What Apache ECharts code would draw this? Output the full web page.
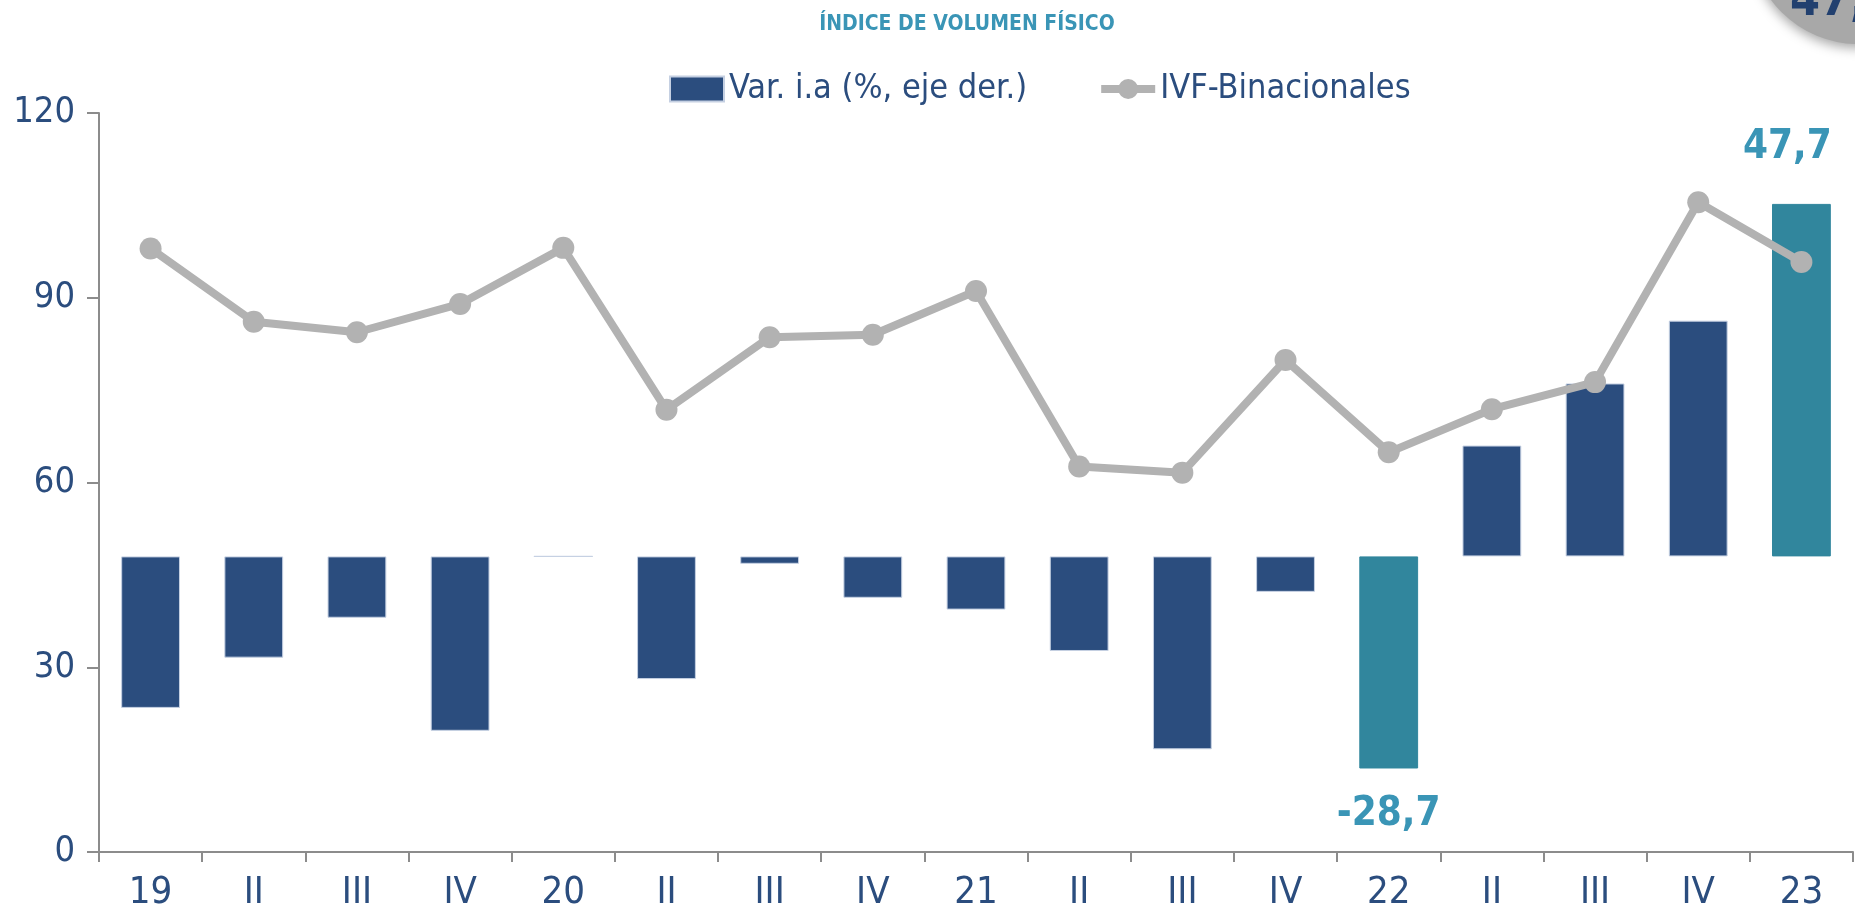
<!DOCTYPE html>
<html>
<head>
<meta charset="utf-8">
<title>Índice de volumen físico</title>
<script src="https://cdn.jsdelivr.net/npm/echarts@6/dist/echarts.min.js"></script>
<style>
  html, body { margin: 0; padding: 0; background: #fff; }
  #chart { width: 1855px; height: 914px; }
</style>
</head>
<body>
<div id="chart"></div>
<script>
// categorías trimestrales (año en el primer trimestre)
const categories = ['19', 'II', 'III', 'IV', '20', 'II', 'III', 'IV', '21', 'II', 'III', 'IV', '22', 'II', 'III', 'IV', '23'];

// IVF-Binacionales (eje izquierdo)
const ivfValues = [98.0, 86.1, 84.4, 89.0, 98.1, 71.8, 83.6, 84.0, 91.1, 62.6, 61.6, 79.9, 64.9, 71.9, 76.3, 105.5, 95.8];

// Var. i.a % (eje derecho, oculto)
const varValues = [-20.5, -13.7, -8.3, -23.6, 0, -16.6, -1.0, -5.6, -7.2, -12.8, -26.1, -4.8, -28.7, 15.0, 23.4, 31.9, 47.7];

// barras resaltadas con etiqueta
const highlighted = [12, 16];

// ticks del eje izquierdo
const leftTicks = [0, 30, 60, 90, 120];

const NAVY = '#2b4d7e';
const TEAL = '#31869d';
const LABEL_TEAL = '#3a95b6';
const GREY = '#b2b2b2';
const AXIS = '#8c8c8c';
const FONT = "'Liberation Sans Narrow', 'DejaVu Sans Condensed', sans-serif";

const chart = echarts.init(document.getElementById('chart'));

const barData = varValues.map((v, i) => {
  if (highlighted.indexOf(i) === -1) return v;
  return {
    value: v,
    itemStyle: { color: TEAL, borderColor: TEAL },
    label: {
      show: true,
      position: v < 0 ? 'bottom' : 'top',
      distance: v < 0 ? 26 : 36,
      offset: v < 0 ? [0, 0] : [-14, 0],
      color: LABEL_TEAL,
      fontFamily: FONT,
      fontWeight: 'bold',
      fontSize: 40,
      formatter: p => String(p.value).replace('.', ',')
    }
  };
});

chart.setOption({
  animation: false,
  backgroundColor: '#fff',
  title: {
    text: 'ÍNDICE DE VOLUMEN FÍSICO',
    left: 962,
    top: 9,
    textAlign: 'center',
    textStyle: { color: '#3a95b6', fontFamily: FONT, fontWeight: 'bold', fontSize: 21 }
  },
  legend: {
    left: 664,
    top: 67,
    itemWidth: 54,
    itemHeight: 25,
    itemGap: 70,
    textStyle: { color: NAVY, fontFamily: FONT, fontSize: 34 },
    data: [
      { name: 'Var. i.a (%, eje der.)', icon: 'rect' },
      {
        name: 'IVF-Binacionales',
        lineStyle: { color: GREY, width: 8 },
        itemStyle: { color: GREY }
      }
    ]
  },
  grid: { left: 99, right: 2, top: 113, bottom: 62, containLabel: false },
  xAxis: {
    type: 'category',
    data: categories,
    axisLine: { lineStyle: { color: AXIS, width: 2 } },
    axisTick: { show: true, length: 10, lineStyle: { color: AXIS, width: 2 } },
    axisLabel: { color: NAVY, fontFamily: FONT, fontSize: 38, margin: 22 }
  },
  yAxis: [
    {
      type: 'value',
      min: leftTicks[0],
      max: leftTicks[leftTicks.length - 1],
      interval: leftTicks[1] - leftTicks[0],
      axisLine: { show: true, lineStyle: { color: AXIS, width: 2 } },
      axisTick: { show: true, length: 12, lineStyle: { color: AXIS, width: 2 } },
      splitLine: { show: false },
      axisLabel: { color: NAVY, fontFamily: FONT, fontSize: 36, margin: 24 }
    },
    {
      type: 'value',
      min: -40,
      max: 60,
      show: false,
      splitLine: { show: false }
    }
  ],
  graphic: [
    {
      type: 'circle',
      shape: { cx: 1858, cy: -64, r: 108 },
      style: {
        fill: '#a8a8a8',
        shadowBlur: 12,
        shadowColor: 'rgba(0,0,0,0.35)',
        shadowOffsetY: 4
      },
      z: 10
    },
    {
      type: 'text',
      x: 1790,
      y: 27,
      style: {
        text: '47,7%',
        fill: '#22406f',
        font: "bold 48px 'Liberation Sans Narrow', 'DejaVu Sans Condensed', sans-serif",
        textVerticalAlign: 'bottom'
      },
      z: 11
    }
  ],
  series: [
    {
      name: 'Var. i.a (%, eje der.)',
      type: 'bar',
      yAxisIndex: 1,
      barWidth: '57%',
      itemStyle: { color: NAVY, borderColor: '#c5d0e2', borderWidth: 1 },
      data: barData,
      z: 2
    },
    {
      name: 'IVF-Binacionales',
      type: 'line',
      yAxisIndex: 0,
      data: ivfValues,
      symbol: 'circle',
      symbolSize: 22,
      lineStyle: { color: GREY, width: 8 },
      itemStyle: { color: GREY },
      z: 3
    }
  ]
});
</script>
</body>
</html>
